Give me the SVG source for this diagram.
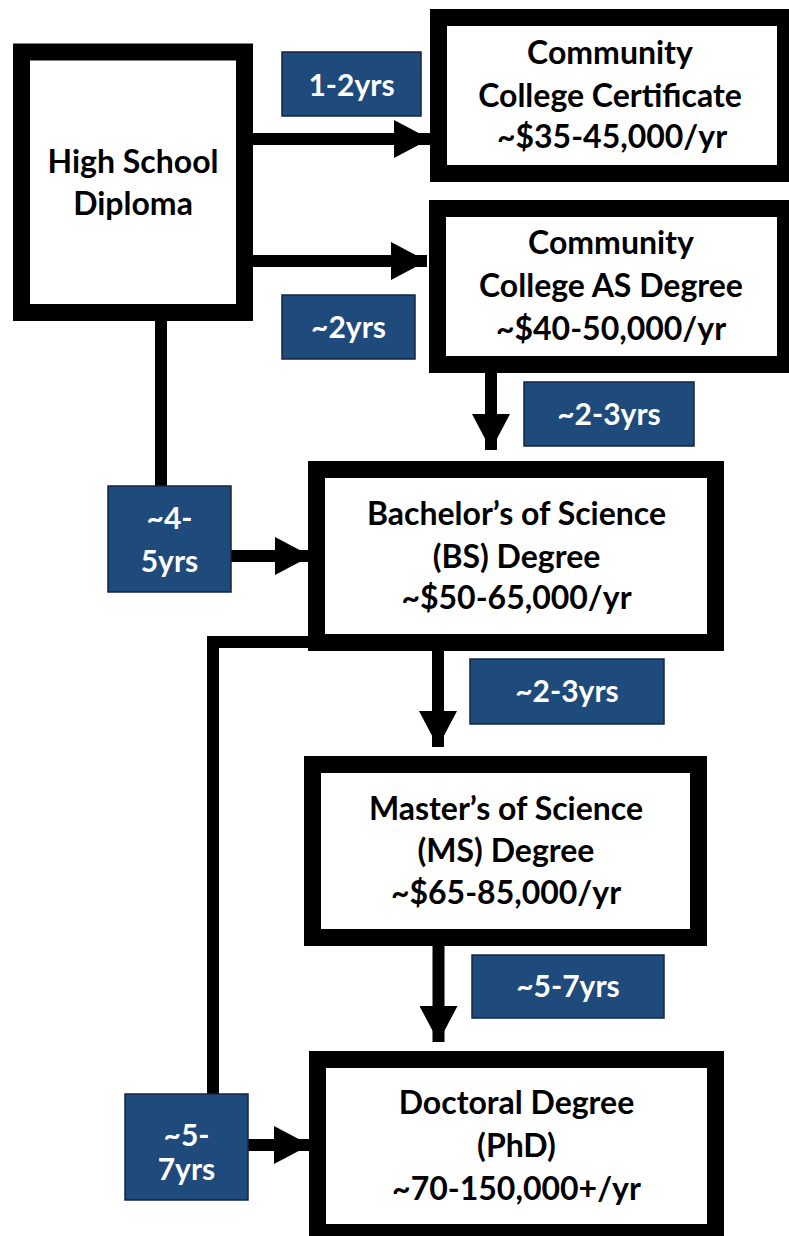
<svg xmlns="http://www.w3.org/2000/svg" width="789" height="1236" viewBox="0 0 789 1236">
<style>
.box{fill:#fff;stroke:#000;stroke-width:17}
.t{font-family:Lato,"Open Sans","Liberation Sans",sans-serif;font-weight:bold;font-size:32px;fill:#000;text-anchor:middle}
.lab{fill:#1F4A7C;stroke:#13263f;stroke-width:1.5}
.lt{font-family:Lato,"Open Sans","Liberation Sans",sans-serif;font-weight:bold;font-size:30px;fill:#fff;text-anchor:middle}
.c{fill:none;stroke:#000;stroke-width:12}
</style>
<defs>
<marker id="ah" viewBox="0 0 36 38" refX="36" refY="19" markerWidth="36" markerHeight="38" markerUnits="userSpaceOnUse" orient="auto">
<path d="M0,0 L36,19 L0,38 z" fill="#000"/>
</marker>
</defs>
<rect width="789" height="1236" fill="#fff"/>
<g id="connectors">
<line class="c" x1="253" y1="139" x2="430" y2="139" marker-end="url(#ah)"/>
<line class="c" x1="253" y1="261" x2="427" y2="261" marker-end="url(#ah)"/>
<line class="c" x1="161" y1="321" x2="161" y2="487"/>
<line class="c" x1="231" y1="556" x2="311" y2="556" marker-end="url(#ah)"/>
<line class="c" x1="491" y1="373" x2="491" y2="450" marker-end="url(#ah)"/>
<line class="c" x1="438" y1="651" x2="438" y2="747" marker-end="url(#ah)"/>
<path class="c" d="M312 642 H213 V1095"/>
<line class="c" x1="248" y1="1145" x2="310" y2="1145" marker-end="url(#ah)"/>
<line class="c" x1="438.5" y1="946" x2="438.5" y2="1042" marker-end="url(#ah)"/>
</g>
<g id="hs">
<rect class="box" x="21.5" y="52" width="223" height="260.5"/>
<text class="t" x="133" y="173">High School</text>
<text class="t" x="133" y="215">Diploma</text>
</g>
<g id="cert">
<rect class="box" x="438.5" y="17.5" width="347" height="156"/>
<text class="t" x="610" y="64">Community</text>
<text class="t" x="610" y="107">College Certificate</text>
<text class="t" x="612" y="148">~$35-45,000/yr</text>
</g>
<g id="as">
<rect class="box" x="437.5" y="208.5" width="348" height="156"/>
<text class="t" x="611" y="254">Community</text>
<text class="t" x="611" y="297">College AS Degree</text>
<text class="t" x="611" y="340">~$40-50,000/yr</text>
</g>
<g id="bs">
<rect class="box" x="316.5" y="469.5" width="399" height="173"/>
<text class="t" x="516.5" y="525">Bachelor’s of Science</text>
<text class="t" x="516.5" y="568">(BS) Degree</text>
<text class="t" x="516.5" y="609">~$50-65,000/yr</text>
</g>
<g id="ms">
<rect class="box" x="312.5" y="764.5" width="386" height="173"/>
<text class="t" x="506" y="820">Master’s of Science</text>
<text class="t" x="506" y="862">(MS) Degree</text>
<text class="t" x="506" y="904">~$65-85,000/yr</text>
</g>
<g id="phd">
<rect class="box" x="317.5" y="1059.5" width="398" height="173"/>
<text class="t" x="516.5" y="1114">Doctoral Degree</text>
<text class="t" x="516.5" y="1157">(PhD)</text>
<text class="t" x="516.5" y="1200">~70-150,000+/yr</text>
</g>
<g id="l12">
<rect class="lab" x="282" y="52" width="139" height="64"/>
<text class="lt" x="351.5" y="96">1-2yrs</text>
</g>
<g id="l2">
<rect class="lab" x="282" y="295" width="133" height="64"/>
<text class="lt" x="348.5" y="338">~2yrs</text>
</g>
<g id="l23a">
<rect class="lab" x="524" y="382" width="170" height="64"/>
<text class="lt" x="609" y="425">~2-3yrs</text>
</g>
<g id="l45">
<rect class="lab" x="108" y="486" width="123" height="106"/>
<text class="lt" x="169.5" y="529">~4-</text>
<text class="lt" x="169.5" y="572">5yrs</text>
</g>
<g id="l23b">
<rect class="lab" x="470" y="659" width="194" height="65"/>
<text class="lt" x="567" y="702">~2-3yrs</text>
</g>
<g id="l57a">
<rect class="lab" x="472" y="955" width="192" height="63"/>
<text class="lt" x="568" y="997">~5-7yrs</text>
</g>
<g id="l57b">
<rect class="lab" x="125" y="1094" width="123" height="106"/>
<text class="lt" x="186.5" y="1146">~5-</text>
<text class="lt" x="186.5" y="1180">7yrs</text>
</g>
</svg>
